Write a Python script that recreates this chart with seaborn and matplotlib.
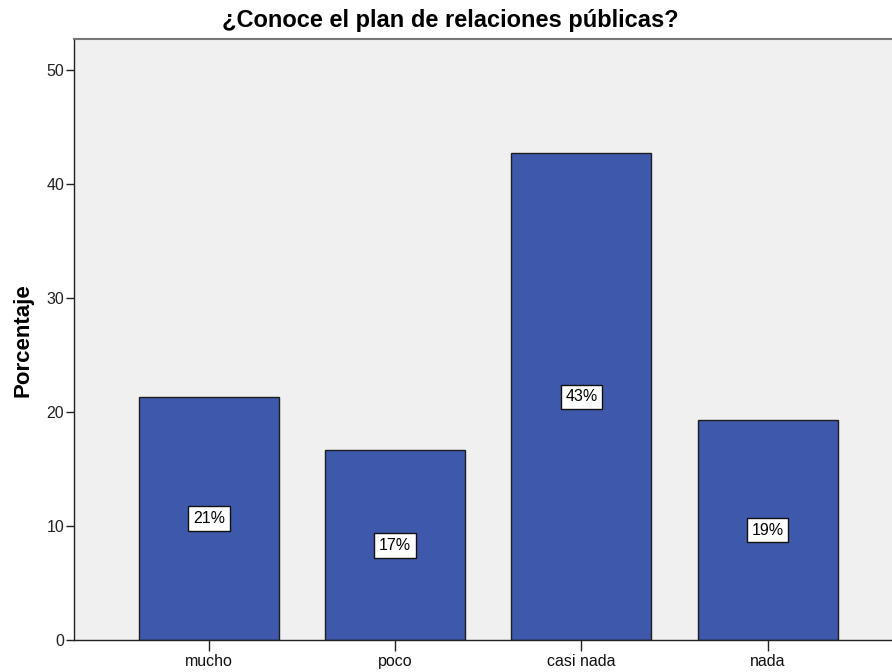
import matplotlib
matplotlib.use("Agg")
import matplotlib.pyplot as plt
import seaborn as sns
import pandas as pd

categorias = ["mucho", "poco", "casi nada", "nada"]
porcentajes = [21.33, 16.67, 42.67, 19.33]
etiquetas = ["21%", "17%", "43%", "19%"]

sns.set_theme(style="white")
plt.rcParams["font.family"] = ["Liberation Sans", "DejaVu Sans"]
plt.rcParams["text.color"] = "black"
plt.rcParams["axes.labelcolor"] = "black"
plt.rcParams["xtick.color"] = "#222222"
plt.rcParams["ytick.color"] = "#222222"

df = pd.DataFrame({"categoria": categorias, "porcentaje": porcentajes})

fig = plt.figure(figsize=(8.92, 6.72), dpi=100)
ax = fig.add_axes([0.083, 0.047, 0.917, 0.895])
ax.set_facecolor("#f0f0f0")

sns.barplot(data=df, x="categoria", y="porcentaje", order=categorias,
            color="#3e58ac", saturation=1, width=0.752,
            edgecolor="#1e1e1e", linewidth=1.0, ax=ax)

for i, (v, t) in enumerate(zip(porcentajes, etiquetas)):
    ax.text(i, v / 2, t, ha="center", va="center", fontsize=11.5, color="black",
            bbox=dict(boxstyle="square,pad=0.3", facecolor="white",
                      edgecolor="#111111", linewidth=1.0))

ax.set_xlim(-0.725, 3.668)
ax.set_ylim(0, 52.7)
ax.set_yticks([0, 10, 20, 30, 40, 50])
ax.set_xlabel("")
ax.set_ylabel("Porcentaje", fontsize=16, fontweight="bold", labelpad=9,
              color="black")

fig.text(0.5045, 1 - 20 / 672, "¿Conoce el plan de relaciones públicas?",
         ha="center", va="center", fontsize=17, fontweight="bold",
         color="black")

ax.tick_params(axis="y", direction="out", length=6, width=1, color="#222222",
               labelsize=11.5, pad=1, left=True, labelcolor="#222222")
ax.tick_params(axis="x", direction="out", length=8, width=1, color="#222222",
               labelsize=11.5, pad=2, bottom=True, labelcolor="#111111")

for s in ["left", "bottom"]:
    ax.spines[s].set_color("#222222")
    ax.spines[s].set_linewidth(1.0)
ax.spines["top"].set_color("#777777")
ax.spines["top"].set_linewidth(1.5)
ax.spines["right"].set_visible(False)

fig.savefig("out.png", dpi=100)
